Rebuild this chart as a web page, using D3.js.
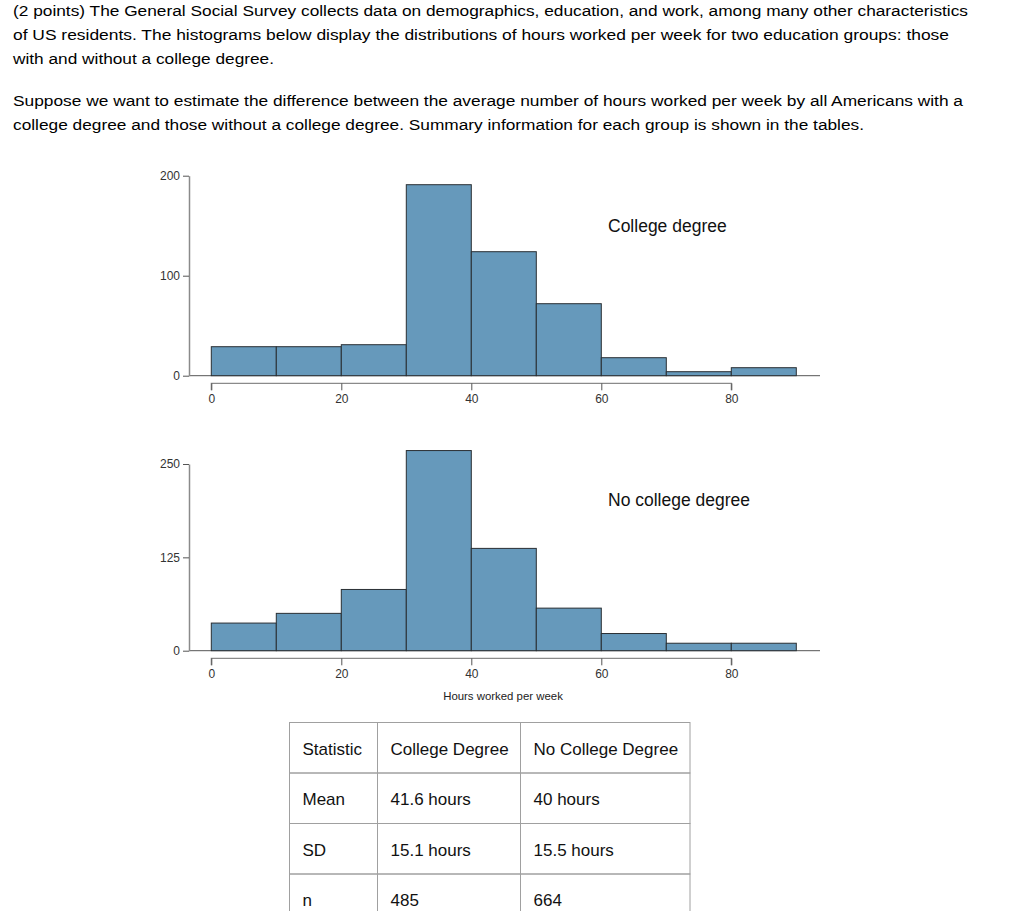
<!DOCTYPE html>
<html>
<head>
<meta charset="utf-8">
<script src="https://cdn.jsdelivr.net/npm/d3@7"></script>
<style>
  html, body { margin: 0; padding: 0; background: #fff; }
  svg { display: block; }
</style>
</head>
<body>
<svg id="chart" width="1024" height="911"></svg>
<script>
// ---- data ----
const binEdges = [0, 10, 20, 30, 40, 50, 60, 70, 80, 90];
const collegeCounts = [29, 29, 31, 191, 124, 72, 18, 4, 8];
const noCollegeCounts = [37, 50, 82, 268, 137, 57, 23, 10, 10];
const xTicks = [0, 20, 40, 60, 80];
const collegeYTicks = [0, 100, 200];
const noCollegeYTicks = [0, 125, 250];
const panelTitles = ["College degree", "No college degree"];
const xAxisTitle = "Hours worked per week";
const paragraphLines = [
  "(2 points) The General Social Survey collects data on demographics, education, and work, among many other characteristics",
  "of US residents. The histograms below display the distributions of hours worked per week for two education groups: those",
  "with and without a college degree.",
  "Suppose we want to estimate the difference between the average number of hours worked per week by all Americans with a",
  "college degree and those without a college degree. Summary information for each group is shown in the tables."
];
const tableHeader = ["Statistic", "College Degree", "No College Degree"];
const tableRows = [
  ["Mean", "41.6 hours", "40 hours"],
  ["SD", "15.1 hours", "15.5 hours"],
  ["n", "485", "664"]
];

// ---- layout ----
const svg = d3.select("#chart");
const FONT = "'Liberation Sans', Arial, Helvetica, sans-serif";
const lineBaselines = [16, 40, 64, 106, 130];
const lineWidths = [955, 936, 261, 950, 851];

svg.selectAll("text.para")
  .data(paragraphLines)
  .join("text")
  .attr("class", "para")
  .attr("x", 13)
  .attr("y", (d, i) => lineBaselines[i])
  .attr("font-family", FONT)
  .attr("font-size", 15.5)
  .attr("fill", "#000")
  .attr("textLength", (d, i) => lineWidths[i])
  .attr("lengthAdjust", "spacingAndGlyphs")
  .text(d => d);

const x = d3.scaleLinear().domain([0, 80]).range([211.3, 731.3]);

function histogram(counts, yTicks, yTop, yZero, axisY, title, titleY) {
  const y = d3.scaleLinear().domain([0, yTicks[yTicks.length - 1]]).range([yZero, yTop]);
  const g = svg.append("g");

  // baseline
  g.append("line")
    .attr("x1", 189).attr("x2", 820)
    .attr("y1", y(0)).attr("y2", y(0))
    .attr("stroke", "#555").attr("stroke-width", 1);

  // bars
  const bins = counts.map((c, i) => ({ x0: binEdges[i], x1: binEdges[i + 1], c }));
  g.selectAll("rect")
    .data(bins)
    .join("rect")
    .attr("x", d => x(d.x0))
    .attr("width", d => x(d.x1) - x(d.x0))
    .attr("y", d => y(d.c))
    .attr("height", d => y(0) - y(d.c))
    .attr("fill", "#6699bb")
    .attr("stroke", "#2a2f33")
    .attr("stroke-width", 1);

  // y axis
  const yAxis = d3.axisLeft(y).tickValues(yTicks).tickSize(6).tickSizeOuter(0).tickPadding(3);
  const ya = g.append("g").attr("transform", "translate(189,0)").call(yAxis);
  ya.select(".domain").attr("stroke", "#8a8a8a").attr("stroke-width", 1.5);
  ya.selectAll(".tick line").attr("stroke", "#555");
  ya.selectAll(".tick text").attr("font-family", FONT).attr("font-size", 12).attr("fill", "#333");

  // x axis
  const xAxis = d3.axisBottom(x).tickValues(xTicks).tickSize(7).tickSizeOuter(0).tickPadding(4);
  const xa = g.append("g").attr("transform", `translate(0,${axisY})`).call(xAxis);
  xa.select(".domain").attr("stroke", "#8a8a8a").attr("stroke-width", 1.2)
    .attr("d", `M${x(0)},7V0H${x(80)}V7`);
  xa.selectAll(".tick line").attr("stroke", "#555");
  xa.selectAll(".tick text").attr("font-family", FONT).attr("font-size", 12).attr("fill", "#333");

  g.append("text")
    .attr("x", 608).attr("y", titleY)
    .attr("font-family", FONT).attr("font-size", 17.5).attr("fill", "#111")
    .text(title);
}

histogram(collegeCounts, collegeYTicks, 175.7, 375.7, 383.3, panelTitles[0], 232);
histogram(noCollegeCounts, noCollegeYTicks, 464, 650.7, 658.3, panelTitles[1], 506);

svg.append("text")
  .attr("x", 503).attr("y", 700)
  .attr("text-anchor", "middle")
  .attr("font-family", FONT).attr("font-size", 11.4).attr("fill", "#222")
  .text(xAxisTitle);

// ---- table ----
const colX = [289.5, 377.5, 520.5, 690];
const rowY = [722.5, 773, 823.5, 874, 924.5];
const tg = svg.append("g");
const allRows = [tableHeader].concat(tableRows);
allRows.forEach((row, r) => {
  row.forEach((cell, c) => {
    tg.append("rect")
      .attr("x", colX[c]).attr("y", rowY[r])
      .attr("width", colX[c + 1] - colX[c])
      .attr("height", rowY[r + 1] - rowY[r])
      .attr("fill", "none").attr("stroke", "#a0a0a0").attr("stroke-width", 1);
    tg.append("text")
      .attr("x", colX[c] + 13).attr("y", rowY[r] + 32)
      .attr("font-family", FONT).attr("font-size", 17).attr("fill", "#111")
      .text(cell);
  });
});
</script>
</body>
</html>
